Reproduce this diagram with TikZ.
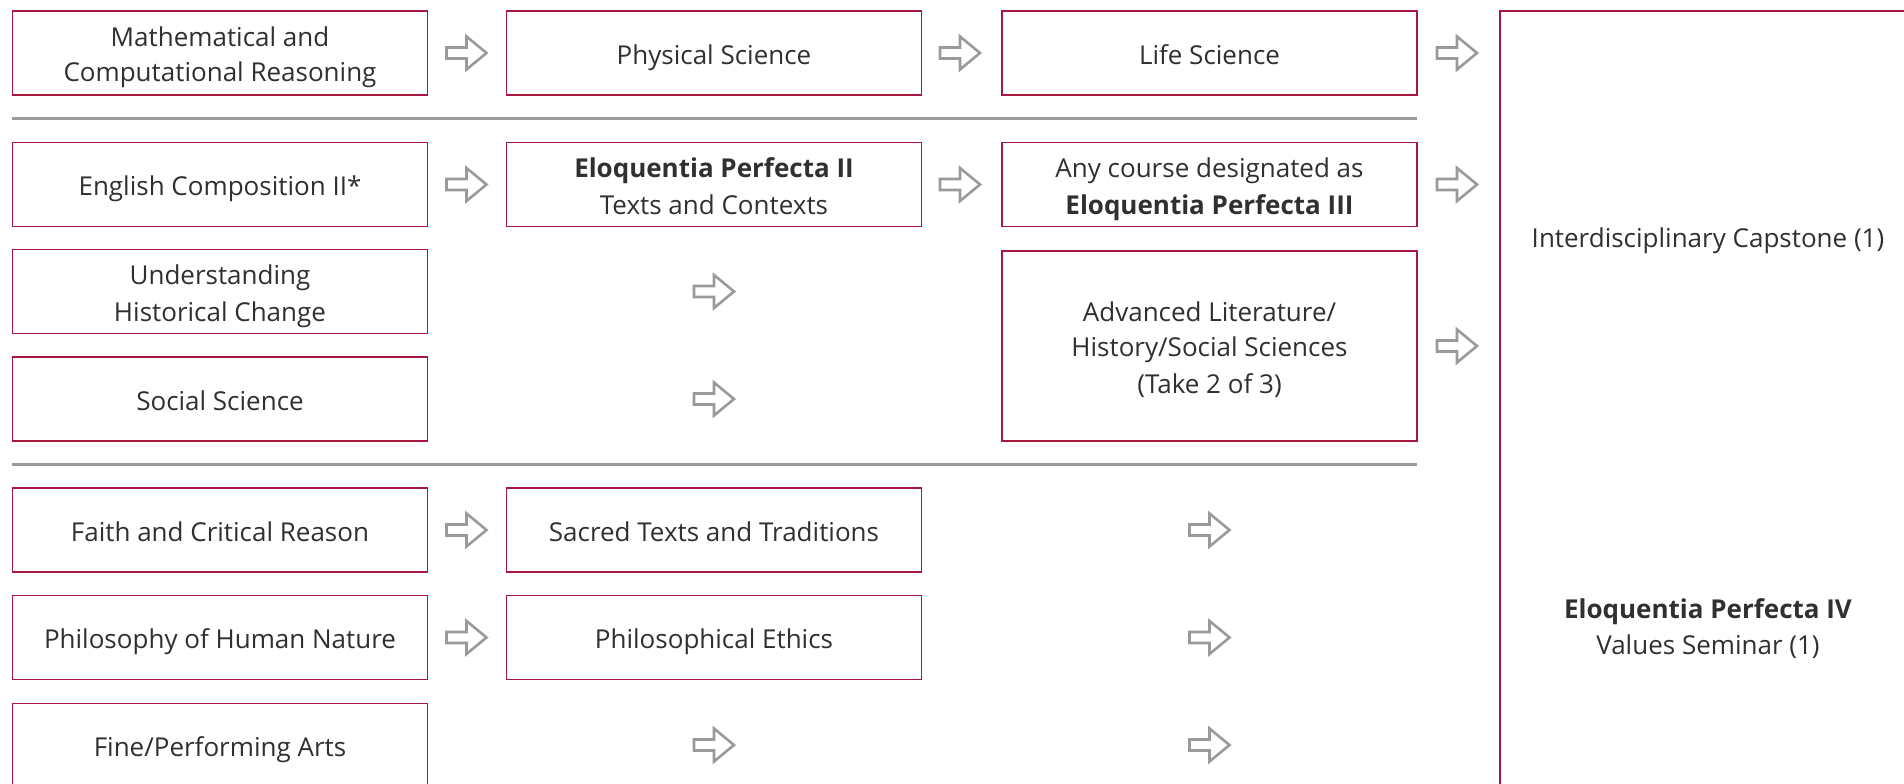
\documentclass[tikz,border=0pt]{standalone}
\usepackage{fontspec}
\setmainfont{Open Sans}
\definecolor{crim}{HTML}{A8173F}
\definecolor{sepgray}{HTML}{9A9A9A}
\definecolor{txt}{HTML}{303030}
\newcommand\lstrut{\rule[-6pt]{0pt}{35pt}}
\tikzset{
  coursebox/.style={draw=crim, line width=1.6pt, minimum width=415pt, minimum height=84pt,
    inner sep=0pt, align=center, text=txt, font=\fontsize{26}{35}\selectfont},
  plaintext/.style={inner sep=0pt, align=center, text=txt, font=\fontsize{26}{35}\selectfont},
  sepline/.style={draw=sepgray, line width=3pt},
  blockarr/.pic={\draw[sepgray, line width=2.6pt, fill=white, line join=miter]
    (-20,-5.5) -- (0,-5.5) -- (0,-16.5) -- (20,0) -- (0,16.5) -- (0,5.5) -- (-20,5.5) -- cycle;}
}
\begin{document}
\begin{tikzpicture}[x=1pt,y=-1pt]
\useasboundingbox[fill=white] (0,0) rectangle (1904,784);
\clip (0,0) rectangle (1904,784);
% column 1
\node[coursebox] (math) at (220,53) {\lstrut Mathematical and\\\lstrut Computational Reasoning};
\node[coursebox] (eng) at (220,184.5) {\lstrut English Composition II*};
\node[coursebox] (hist) at (220,291.5) {\lstrut Understanding\\\lstrut Historical Change};
\node[coursebox] (soc) at (220,399) {\lstrut Social Science};
\node[coursebox] (faith) at (220,530) {\lstrut Faith and Critical Reason};
\node[coursebox] (phil) at (220,637.5) {\lstrut Philosophy of Human Nature};
\node[coursebox] (arts) at (220,745.5) {\lstrut Fine/Performing Arts};
% column 2
\node[coursebox] (phys) at (714,53) {\lstrut Physical Science};
\node[coursebox] (ep2) at (714,184.5) {\lstrut\textbf{Eloquentia Perfecta II}\\\lstrut Texts and Contexts};
\node[coursebox] (sacred) at (714,530) {\lstrut Sacred Texts and Traditions};
\node[coursebox] (ethics) at (714,637.5) {\lstrut Philosophical Ethics};
% column 3
\node[coursebox] (life) at (1209.5,53) {\lstrut Life Science};
\node[coursebox] (ep3) at (1209.5,184.5) {\lstrut Any course designated as\\\lstrut\textbf{Eloquentia Perfecta III}};
\node[coursebox, minimum height=190pt] (adv) at (1209.5,346) {\lstrut Advanced Literature/\\\lstrut History/Social Sciences\\\lstrut (Take 2 of 3)};
% big box
\node[coursebox, minimum width=416pt, minimum height=820pt] (cap) at (1708,421) {};
\node[plaintext] (captext) at (1708,236.5) {\lstrut Interdisciplinary Capstone (1)};
\node[plaintext] (ep4) at (1708,625) {\lstrut\textbf{Eloquentia Perfecta IV}\\\lstrut Values Seminar (1)};
% separators
\coordinate (s1a) at (12,118.5); \coordinate (s1b) at (1417,118.5);
\coordinate (s2a) at (12,464); \coordinate (s2b) at (1417,464);
\draw[sepline] (s1a) -- (s1b);
\draw[sepline] (s2a) -- (s2b);
% arrows
\pic at (466.5,53) {blockarr};
\pic at (960,53) {blockarr};
\pic at (1457,53) {blockarr};
\pic at (466.5,184.5) {blockarr};
\pic at (960,184.5) {blockarr};
\pic at (1457,184.5) {blockarr};
\pic at (714,291.5) {blockarr};
\pic at (714,399) {blockarr};
\pic at (1457,346) {blockarr};
\pic at (466.5,530) {blockarr};
\pic at (1209.5,530) {blockarr};
\pic at (466.5,637.5) {blockarr};
\pic at (1209.5,637.5) {blockarr};
\pic at (714,745) {blockarr};
\pic at (1209.5,745) {blockarr};
\end{tikzpicture}
\end{document}
